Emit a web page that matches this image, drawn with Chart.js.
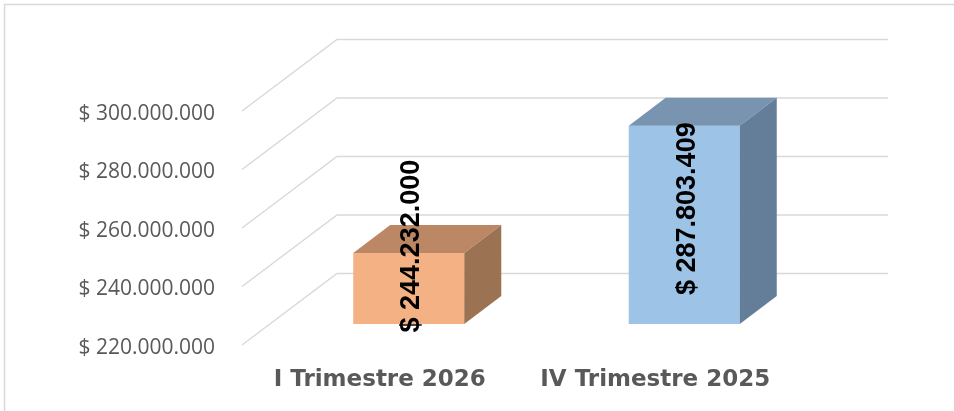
<!DOCTYPE html>
<html>
<head>
<meta charset="utf-8">
<script src="https://cdn.jsdelivr.net/npm/chart.js@4.4.0/dist/chart.umd.min.js"></script>
<style>
  html, body { margin: 0; padding: 0; background: #fff; }
  #wrap { width: 954px; height: 411px; }
</style>
</head>
<body>
<div id="wrap"><canvas id="chart" width="954" height="411"></canvas></div>
<script>
// Chart values
var categories = ['I Trimestre 2026', 'IV Trimestre 2025'];
var values     = [244232000, 287803409];
var yMin  = 220000000;
var yMax  = 300000000;
var yStep = 20000000;

// Face colours of each 3D column (front, top, side)
var frontColors = ['#F4B183', '#9DC3E6'];
var topColors   = ['#BC8764', '#7894B0'];
var sideColors  = ['#9C7352', '#647E99'];

// Format numbers like "$ 300.000.000"
function money(v) {
    return '$ ' + Math.round(v).toString().replace(/\B(?=(\d{3})+(?!\d))/g, '.');
}

// Fake 3D: back wall offset, bar plane offset and box depth
var wall  = {dx: 95, dy: -71.5};
var shift = {dx: 29, dy: -21};
var box   = {dx: 37, dy: -28};
var labelDy = [-7, 83]; // label centre relative to front face top

var threeD = {
    id: 'threeD',
    beforeDraw: function(chart) {
        var ctx = chart.ctx;
        ctx.save();
        ctx.strokeStyle = '#d9d9d9';
        ctx.lineWidth = 1.5;
        ctx.strokeRect(4.5, 4.5, chart.width + 20, chart.height + 20);
        ctx.restore();
    },
    beforeDatasetsDraw: function(chart) {
        var ctx = chart.ctx;
        var area = chart.chartArea;
        var y = chart.scales.y;
        ctx.save();
        ctx.strokeStyle = '#d9d9d9';
        ctx.lineWidth = 1.5;
        for (let v = yMin; v <= yMax; v += yStep) {
            let py = y.getPixelForValue(v);
            ctx.beginPath();
            ctx.moveTo(area.left, py);
            ctx.lineTo(area.left + wall.dx, py + wall.dy);
            ctx.lineTo(area.right + wall.dx, py + wall.dy);
            ctx.stroke();
        }
        ctx.restore();
        // bars are drawn by Chart.js, moved back into the floor
        ctx.save();
        ctx.translate(shift.dx, shift.dy);
    },
    afterDatasetsDraw: function(chart) {
        var ctx = chart.ctx;
        ctx.restore();
        var floor = chart.scales.y.getPixelForValue(yMin);
        var bars = chart.getDatasetMeta(0).data;
        for (let i = 0; i < bars.length; i++) {
            let b = bars[i].getProps(['x', 'y', 'width'], true);
            let l = b.x - b.width / 2 + shift.dx;
            let r = b.x + b.width / 2 + shift.dx;
            let t = b.y + shift.dy;
            let bt = floor + shift.dy;
            // top face
            ctx.fillStyle = topColors[i];
            ctx.beginPath();
            ctx.moveTo(l, t);
            ctx.lineTo(l + box.dx, t + box.dy);
            ctx.lineTo(r + box.dx, t + box.dy);
            ctx.lineTo(r, t);
            ctx.closePath();
            ctx.fill();
            // side face
            ctx.fillStyle = sideColors[i];
            ctx.beginPath();
            ctx.moveTo(r, t);
            ctx.lineTo(r + box.dx, t + box.dy);
            ctx.lineTo(r + box.dx, bt + box.dy);
            ctx.lineTo(r, bt);
            ctx.closePath();
            ctx.fill();
        }
        // value labels, rotated
        for (let i = 0; i < bars.length; i++) {
            let b = bars[i].getProps(['x', 'y'], true);
            ctx.save();
            ctx.translate(b.x + shift.dx + 3, b.y + shift.dy + labelDy[i]);
            ctx.rotate(-Math.PI / 2);
            ctx.font = 'bold 27px "Liberation Sans", Arial, sans-serif';
            ctx.fillStyle = '#000';
            ctx.textAlign = 'center';
            ctx.textBaseline = 'middle';
            ctx.fillText(money(values[i]), 0, 0);
            ctx.restore();
        }
    }
};

new Chart(document.getElementById('chart'), {
    type: 'bar',
    data: {
        labels: categories,
        datasets: [{
            data: values,
            backgroundColor: frontColors,
            borderWidth: 0,
            categoryPercentage: 1,
            barPercentage: 0.403
        }]
    },
    options: {
        responsive: false,
        animation: false,
        layout: { padding: { top: 111, right: 161, left: 0, bottom: 0 } },
        plugins: {
            legend: { display: false },
            tooltip: { enabled: false }
        },
        scales: {
            x: {
                grid: { display: false },
                border: { display: false },
                ticks: {
                    color: '#595959',
                    font: { family: '"DejaVu Sans"', size: 23, weight: 'bold' },
                    padding: 13
                },
                afterFit: function(scale) { scale.height = 66; }
            },
            y: {
                min: yMin,
                max: yMax,
                grid: { display: false },
                border: { display: false },
                ticks: {
                    stepSize: yStep,
                    color: '#595959',
                    font: { family: '"Open Sans"', size: 21 },
                    padding: 19,
                    labelOffset: 3,
                    callback: function(v) { return money(v); }
                },
                afterFit: function(scale) { scale.width = 242; }
            }
        }
    },
    plugins: [threeD]
});
</script>
</body>
</html>
